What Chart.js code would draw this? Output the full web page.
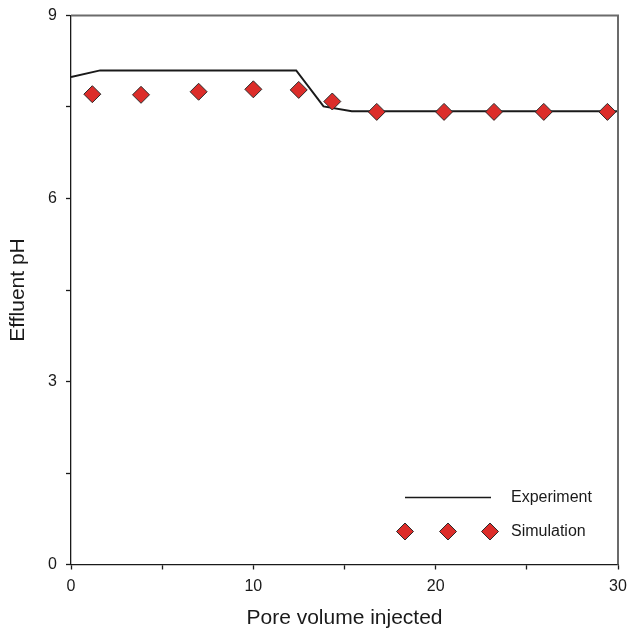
<!DOCTYPE html>
<html>
<head>
<meta charset="utf-8">
<script src="https://cdn.jsdelivr.net/npm/chart.js@4/dist/chart.umd.min.js"></script>
<style>
  html, body { margin: 0; padding: 0; background: #fff; }
  #wrap { width: 628px; height: 630px; position: relative; }
</style>
</head>
<body>
<div id="wrap"><canvas id="c" width="628" height="630"></canvas></div>
<script>
// Effluent pH versus pore volume injected
const experimentPV = [0, 1.6, 12.35, 13.85, 15.4, 30];
const experimentPH = [7.99, 8.10, 8.10, 7.51, 7.43, 7.43];

const simulationPV = [1.17, 3.84, 7.0, 10.0, 12.49, 14.33, 16.77, 20.46, 23.2, 25.93, 29.42];
const simulationPH = [7.71, 7.70, 7.75, 7.79, 7.78, 7.59, 7.42, 7.42, 7.42, 7.42, 7.42];

const xMajorTicks = [0, 10, 20, 30];
const yMajorTicks = [0, 3, 6, 9];

const seriesNames = ['Experiment', 'Simulation'];
const xTitle = 'Pore volume injected';
const yTitle = 'Effluent pH';

const FONT = '"Liberation Sans", Arial, sans-serif';
const RED = '#dc2d2a';
const EDGE = '#2b2b2b';

function diamond(ctx, x, y, r) {
  ctx.beginPath();
  ctx.moveTo(x, y - r);
  ctx.lineTo(x + r, y);
  ctx.lineTo(x, y + r);
  ctx.lineTo(x - r, y);
  ctx.closePath();
  ctx.fillStyle = RED;
  ctx.fill();
  ctx.lineWidth = 1;
  ctx.strokeStyle = EDGE;
  ctx.stroke();
}

// Gray top/right frame and the in-plot legend
const framePlugin = {
  id: 'frameAndLegend',
  afterDraw(chart) {
    const { ctx, chartArea: a } = chart;
    ctx.save();
    ctx.strokeStyle = '#6b6b6b';
    ctx.lineWidth = 2;
    ctx.beginPath();
    ctx.moveTo(a.left, a.top);
    ctx.lineTo(a.right, a.top);
    ctx.lineTo(a.right, a.bottom);
    ctx.stroke();

    // legend
    const lx = a.right - 213;
    const ly1 = a.bottom - 67;
    const ly2 = a.bottom - 33;
    ctx.strokeStyle = '#1a1a1a';
    ctx.lineWidth = 1.5;
    ctx.beginPath();
    ctx.moveTo(lx, ly1);
    ctx.lineTo(lx + 86, ly1);
    ctx.stroke();
    [0, 43, 85].forEach(dx => diamond(ctx, lx + dx, ly2, 8.5));
    ctx.fillStyle = '#1a1a1a';
    ctx.font = '16px ' + FONT;
    ctx.textAlign = 'left';
    ctx.textBaseline = 'middle';
    ctx.fillText(seriesNames[0], lx + 106, ly1);
    ctx.fillText(seriesNames[1], lx + 106, ly2);
    ctx.restore();
  }
};

new Chart(document.getElementById('c'), {
  type: 'scatter',
  data: {
    datasets: [
      {
        label: seriesNames[0],
        data: experimentPV.map((x, i) => ({ x, y: experimentPH[i] })),
        showLine: true,
        borderColor: '#1a1a1a',
        borderWidth: 2,
        pointRadius: 0,
        tension: 0,
        order: 2
      },
      {
        label: seriesNames[1],
        data: simulationPV.map((x, i) => ({ x, y: simulationPH[i] })),
        showLine: false,
        pointStyle: 'rectRot',
        pointRadius: 8.5,
        backgroundColor: RED,
        borderColor: EDGE,
        borderWidth: 1,
        order: 1
      }
    ]
  },
  options: {
    responsive: false,
    animation: false,
    layout: { padding: { top: 15.5, right: 10, left: 0, bottom: 0 } },
    plugins: { legend: { display: false }, tooltip: { enabled: false } },
    scales: {
      x: {
        type: 'linear',
        min: 0, max: 30,
        afterFit(s) { s.height = 65.5; s.paddingLeft = 0; s.paddingRight = 0; },
        ticks: {
          stepSize: 5,
          padding: 7,
          color: '#1a1a1a',
          font: { family: FONT, size: 16 },
          maxRotation: 0,
          callback: v => xMajorTicks.includes(v) ? String(v) : ''
        },
        grid: { drawOnChartArea: false, drawTicks: true, tickLength: 5, tickColor: '#1a1a1a', tickWidth: 1.3 },
        border: { display: true, color: '#1a1a1a', width: 1.3 },
        title: {
          display: true, text: xTitle, color: '#1a1a1a',
          font: { family: FONT, size: 21, lineHeight: 1 },
          padding: { top: 0, bottom: 1 }
        }
      },
      y: {
        type: 'linear',
        min: 0, max: 9,
        afterFit(s) { s.width = 71; s.paddingTop = 0; s.paddingBottom = 0; },
        ticks: {
          stepSize: 1.5,
          padding: 9,
          color: '#1a1a1a',
          font: { family: FONT, size: 16 },
          callback: v => yMajorTicks.includes(v) ? String(v) : ''
        },
        grid: { drawOnChartArea: false, drawTicks: true, tickLength: 5, tickColor: '#1a1a1a', tickWidth: 1.3 },
        border: { display: true, color: '#1a1a1a', width: 1.3 },
        title: {
          display: true, text: yTitle, color: '#1a1a1a',
          font: { family: FONT, size: 21, lineHeight: 1 },
          padding: { top: 8, bottom: 0 }
        }
      }
    }
  },
  plugins: [framePlugin]
});
</script>
</body>
</html>
